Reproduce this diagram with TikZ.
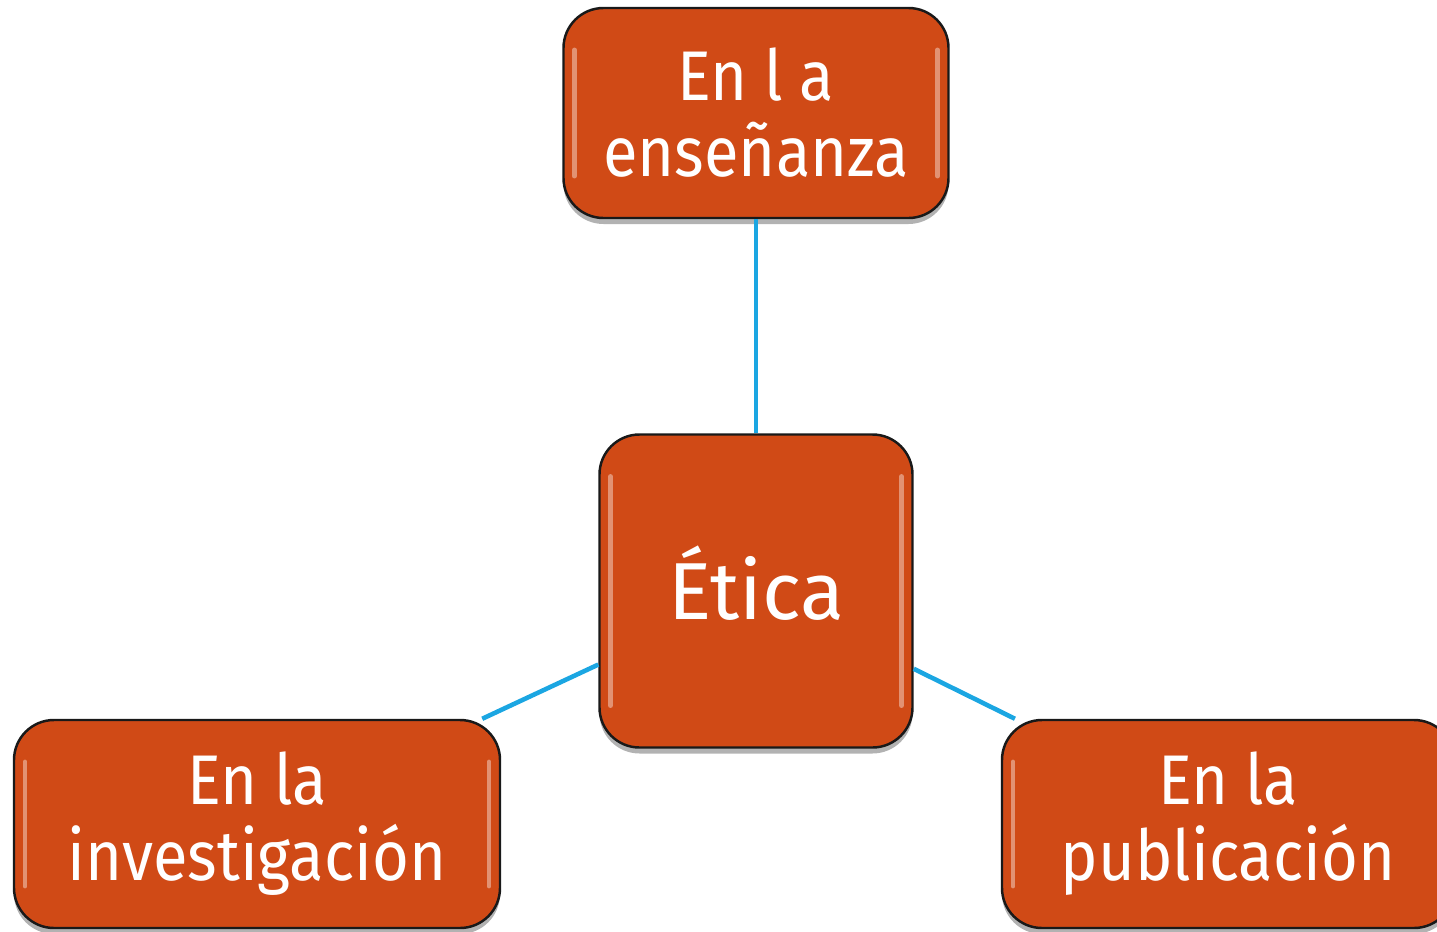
\documentclass[tikz,border=0pt]{standalone}
\usepackage{fontspec}
\setmainfont{Fira Sans}
\newfontfamily\tilefont[FakeStretch=0.9]{Fira Sans}
\usetikzlibrary{shadows}

\definecolor{tileorange}{RGB}{208,74,22}
\definecolor{linkblue}{RGB}{27,166,226}

\tikzset{
  tile/.style={rectangle, rounded corners=0.4cm, draw=black!90, line width=0.7pt,
    fill=tileorange, text=white, align=center, inner sep=0pt,
    font=\tilefont\fontsize{20}{21.6}\selectfont,
    drop shadow={shadow xshift=0pt, shadow yshift=-0.06cm, opacity=0.3, fill=black},
    path picture={
      \draw[white, opacity=0.4, line width=1.4pt, line cap=round]
        ([xshift=0.11cm,yshift=-0.42cm]path picture bounding box.north west)
        -- ([xshift=0.11cm,yshift=0.42cm]path picture bounding box.south west);
      \draw[white, opacity=0.4, line width=1.4pt, line cap=round]
        ([xshift=-0.11cm,yshift=-0.42cm]path picture bounding box.north east)
        -- ([xshift=-0.11cm,yshift=0.42cm]path picture bounding box.south east);
    }},
  link/.style={draw=linkblue, line width=1.3pt},
}

\begin{document}
\begin{tikzpicture}
    \clip (0,0) rectangle (14.37,9.31);

    \node[tile, minimum width=3.85cm, minimum height=2.10cm] (ense) at (7.56,8.18)
        {En l a\\enseñanza};
    \node[tile, minimum width=3.13cm, minimum height=3.13cm, text height=0.56cm, text depth=0pt,
        font=\rmfamily\fontsize{23}{26}\selectfont] (etica) at (7.56,3.40) {Ética};
    \node[tile, minimum width=4.86cm, minimum height=2.08cm] (inv) at (2.57,1.07)
        {En la\\investigación};
    \node[tile, minimum width=4.52cm, minimum height=2.08cm] (pub) at (12.28,1.07)
        {En la\\publicación};

    \draw[link] (etica) -- (ense);
    \draw[link] (etica) -- (inv);
    \draw[link] (etica) -- (pub);
\end{tikzpicture}
\end{document}
